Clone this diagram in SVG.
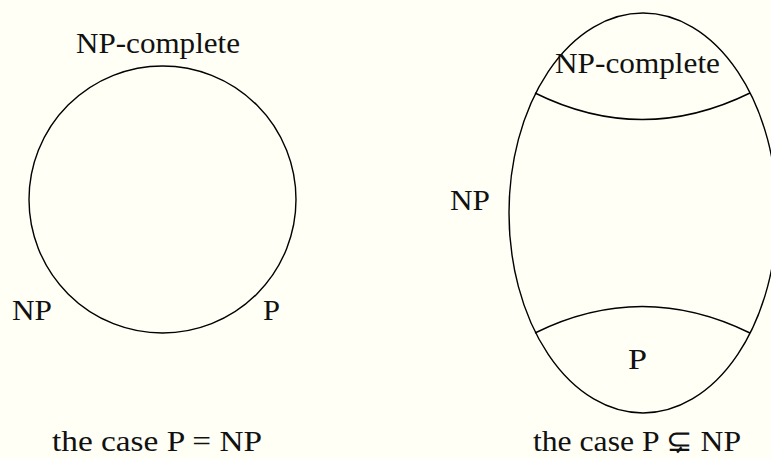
<svg xmlns="http://www.w3.org/2000/svg" width="771" height="459" viewBox="0 0 771 459">
<style>
.t{font-family:"Liberation Serif","DejaVu Serif",serif;font-size:30px;fill:#111}
.s{fill:none;stroke:#000;stroke-width:1.4}
</style>
<rect width="771" height="459" fill="#fffff6"/>
<g id="left-diagram">
<circle class="s" cx="162.5" cy="199.5" r="133.5"/>
<text class="t" x="76" y="53" textLength="164" lengthAdjust="spacingAndGlyphs">NP-complete</text>
<text class="t" x="12" y="320" textLength="40" lengthAdjust="spacingAndGlyphs">NP</text>
<text class="t" x="263" y="320" textLength="17" lengthAdjust="spacingAndGlyphs">P</text>
<text class="t" x="52" y="451" textLength="210" lengthAdjust="spacingAndGlyphs">the case P = NP</text>
</g>
<g id="right-diagram">
<ellipse class="s" cx="643" cy="213" rx="134" ry="200"/>
<path class="s" d="M535,93 Q642,146 750,93"/>
<path class="s" d="M535,333 Q642,280 750,333"/>
<text class="t" x="555" y="73" textLength="165" lengthAdjust="spacingAndGlyphs">NP-complete</text>
<text class="t" x="450" y="210" textLength="40" lengthAdjust="spacingAndGlyphs">NP</text>
<text class="t" x="628" y="369" textLength="19" lengthAdjust="spacingAndGlyphs">P</text>
<text class="t" x="533" y="451" textLength="208" lengthAdjust="spacingAndGlyphs">the case P ⊊ NP</text>
</g>
</svg>
